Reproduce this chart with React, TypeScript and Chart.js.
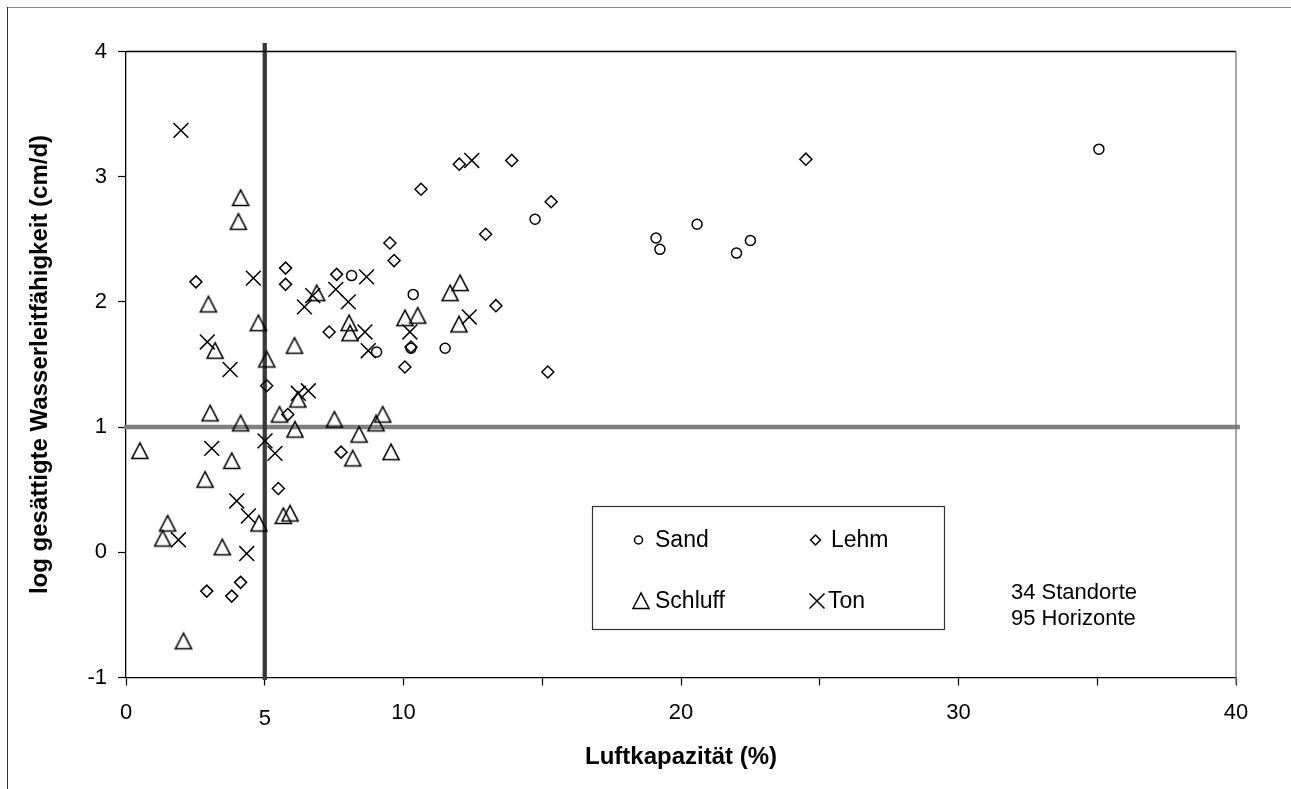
import React, { useEffect, useRef } from 'react';
import { Chart, registerables } from 'chart.js';

Chart.register(...registerables);

const FONT = "'Liberation Sans', Arial, Helvetica, sans-serif";

// ---- data ----
const sandX = [8.13, 9.03, 10.27, 10.35, 11.5, 14.74, 19.1, 19.24, 20.58, 22.0, 22.5, 35.06];
const sandY = [2.21, 1.6, 1.63, 2.06, 1.63, 2.66, 2.51, 2.42, 2.62, 2.39, 2.49, 3.22];

const lehmX = [2.52, 5.75, 5.75, 5.07, 5.83, 5.49, 2.91, 3.81, 4.13, 7.59, 9.51, 9.66, 7.32, 10.27, 10.05, 7.75, 12.01, 13.9, 10.63, 15.32, 12.96, 13.33, 15.2, 24.5];
const lehmY = [2.16, 2.27, 2.14, 1.33, 1.1, 0.51, -0.31, -0.35, -0.24, 2.22, 2.47, 2.33, 1.76, 1.64, 1.48, 0.8, 3.1, 3.13, 2.9, 2.8, 2.54, 1.97, 1.44, 3.14];

const schluffX = [4.13, 4.05, 2.97, 4.77, 3.21, 5.07, 6.07, 6.19, 5.53, 3.03, 4.13, 6.09, 0.5, 3.81, 2.85, 1.5, 1.32, 3.47, 4.79, 5.67, 5.91, 2.07, 6.87, 8.04, 8.07, 10.05, 10.51, 11.68, 12.04, 12.0, 7.51, 9.25, 9.01, 8.4, 8.17, 9.55];
const schluffY = [2.83, 2.64, 1.98, 1.83, 1.61, 1.54, 1.65, 1.22, 1.1, 1.11, 1.03, 0.98, 0.81, 0.73, 0.58, 0.23, 0.11, 0.04, 0.23, 0.29, 0.31, -0.71, 2.07, 1.83, 1.75, 1.87, 1.89, 2.07, 2.15, 1.82, 1.06, 1.1, 1.03, 0.94, 0.75, 0.8];

const tonX = [1.98, 4.59, 6.43, 6.73, 7.56, 8.01, 8.67, 8.61, 8.73, 10.23, 6.21, 6.57, 12.46, 12.37, 2.93, 3.75, 3.09, 5.01, 5.37, 3.99, 4.41, 1.89, 4.35];
const tonY = [3.37, 2.19, 1.96, 2.05, 2.1, 2.0, 2.2, 1.76, 1.61, 1.76, 1.27, 1.29, 3.13, 1.88, 1.68, 1.46, 0.83, 0.89, 0.79, 0.41, 0.29, 0.1, -0.01];

const seriesNames = ['Sand', 'Lehm', 'Schluff', 'Ton'];

const xLimitLine = 5; // vertical reference line at Luftkapazität 5 %
const yLimitLine = 1; // horizontal reference line at log K = 1

const xTickLabels = ['0', '10', '20', '30', '40'];
const xTitle = 'Luftkapazität (%)';
const yTitle = 'log gesättigte Wasserleitfähigkeit (cm/d)';
const noteLines = ['34 Standorte', '95 Horizonte'];

const pairs = (xs: number[], ys: number[]) => xs.map((x, i) => ({ x, y: ys[i] }));

function makeTriangle(): HTMLCanvasElement {
  const c = document.createElement('canvas');
  c.width = 20;
  c.height = 20;
  const g = c.getContext('2d')!;
  g.strokeStyle = '#000';
  g.lineWidth = 1.6;
  g.beginPath();
  g.moveTo(10, 2);
  g.lineTo(2, 17.5);
  g.lineTo(18, 17.5);
  g.closePath();
  g.stroke();
  return c;
}

function drawMarker(ctx: CanvasRenderingContext2D, kind: string, x: number, y: number) {
  ctx.save();
  ctx.strokeStyle = '#000';
  ctx.lineWidth = 1.5;
  ctx.beginPath();
  if (kind === 'Sand') {
    ctx.arc(x, y, 4, 0, Math.PI * 2);
  } else if (kind === 'Lehm') {
    ctx.moveTo(x - 5, y);
    ctx.lineTo(x, y - 5);
    ctx.lineTo(x + 5, y);
    ctx.lineTo(x, y + 5);
    ctx.closePath();
  } else if (kind === 'Schluff') {
    ctx.moveTo(x, y - 8);
    ctx.lineTo(x - 8, y + 7.5);
    ctx.lineTo(x + 8, y + 7.5);
    ctx.closePath();
  } else {
    ctx.moveTo(x - 7.5, y - 7.5);
    ctx.lineTo(x + 7.5, y + 7.5);
    ctx.moveTo(x + 7.5, y - 7.5);
    ctx.lineTo(x - 7.5, y + 7.5);
  }
  ctx.stroke();
  ctx.restore();
}

const extrasPlugin = {
  id: 'extras',
  afterDraw(chart: any) {
    const ctx: CanvasRenderingContext2D = chart.ctx;
    const { left, right, top } = chart.chartArea;
    ctx.save();
    // outer frame
    ctx.lineWidth = 1;
    ctx.strokeStyle = '#8a8a8a';
    ctx.beginPath();
    ctx.moveTo(7, 7.5);
    ctx.lineTo(1291, 7.5);
    ctx.stroke();
    ctx.strokeStyle = '#333';
    ctx.beginPath();
    ctx.moveTo(7.5, 7);
    ctx.lineTo(7.5, 789);
    ctx.stroke();
    // plot top / right border
    ctx.strokeStyle = '#000';
    ctx.lineWidth = 1.3;
    ctx.beginPath();
    ctx.moveTo(left, top);
    ctx.lineTo(right, top);
    ctx.stroke();
    ctx.strokeStyle = '#777';
    ctx.beginPath();
    ctx.moveTo(right, top);
    ctx.lineTo(right, chart.chartArea.bottom + 7);
    ctx.stroke();

    // "5" label under the limit line
    const xs = chart.scales.x;
    ctx.fillStyle = '#000';
    ctx.font = `22px ${FONT}`;
    ctx.textAlign = 'center';
    ctx.textBaseline = 'middle';
    ctx.fillText(String(xLimitLine), xs.getPixelForValue(xLimitLine), 719);

    // legend box
    ctx.strokeStyle = '#333';
    ctx.lineWidth = 1.2;
    ctx.strokeRect(592.5, 506.5, 352, 123);
    const legendPos = [
      { mx: 638.5, tx: 655, y: 540 },
      { mx: 815.5, tx: 831, y: 540 },
      { mx: 641, tx: 655, y: 601 },
      { mx: 817, tx: 828, y: 601 },
    ];
    ctx.font = `23px ${FONT}`;
    ctx.textAlign = 'left';
    ctx.textBaseline = 'middle';
    seriesNames.forEach((name, i) => {
      const p = legendPos[i];
      drawMarker(ctx, name, p.mx, p.y);
      ctx.fillStyle = '#000';
      ctx.fillText(name, p.tx, p.y + 1);
    });

    // note
    ctx.font = `22px ${FONT}`;
    ctx.fillText(noteLines[0], 1011, 593);
    ctx.fillText(noteLines[1], 1011, 619);
    ctx.restore();
  },
};

export default function App() {
  const ref = useRef<HTMLCanvasElement | null>(null);

  useEffect(() => {
    if (!ref.current) return;
    const tri = makeTriangle();
    const common = { backgroundColor: 'rgba(0,0,0,0)', borderColor: '#000', borderWidth: 1.5 };
    const chart = new Chart(ref.current, {
      type: 'scatter',
      data: {
        datasets: [
          { label: seriesNames[0], data: pairs(sandX, sandY), pointStyle: 'circle', pointRadius: 5, ...common },
          { label: seriesNames[1], data: pairs(lehmX, lehmY), pointStyle: 'rectRot', pointRadius: 6, ...common },
          { label: seriesNames[2], data: pairs(schluffX, schluffY), pointStyle: tri as any, pointRadius: 9, ...common },
          { label: seriesNames[3], data: pairs(tonX, tonY), pointStyle: 'crossRot', pointRadius: 10.5, ...common },
          {
            label: 'limitX',
            data: [{ x: xLimitLine, y: 4.067 }, { x: xLimitLine, y: -1.02 }],
            showLine: true,
            borderColor: '#3a3a3a',
            borderWidth: 4.3,
            pointRadius: 0,
            clip: false as any,
            order: 10,
          },
          {
            label: 'limitY',
            data: [{ x: -0.07, y: yLimitLine }, { x: 40.14, y: yLimitLine }],
            showLine: true,
            borderColor: '#808080',
            borderWidth: 4.5,
            pointRadius: 0,
            clip: false as any,
            order: 11,
          },
        ] as any,
      },
      options: {
        responsive: false,
        animation: false,
        layout: { padding: { left: 0, right: 55, top: 51.5, bottom: 0 } },
        plugins: { legend: { display: false }, tooltip: { enabled: false } },
        scales: {
          x: {
            type: 'linear',
            min: 0,
            max: 40,
            afterFit: (s: any) => { s.height = 111.5; },
            border: { display: true, color: '#000', width: 1.3 },
            grid: { drawOnChartArea: false, drawTicks: true, tickLength: 8, color: '#000', tickWidth: 1.2 },
            ticks: {
              stepSize: 5,
              autoSkip: false,
              maxRotation: 0,
              padding: 14,
              color: '#000',
              font: { family: FONT, size: 22 },
              callback: (v: any) => (xTickLabels.includes(String(v)) ? String(v) : ''),
            },
            title: {
              display: true,
              text: xTitle,
              color: '#000',
              font: { family: FONT, size: 24, weight: 'bold' },
              padding: { top: 0, bottom: 17.5 },
            },
          },
          y: {
            type: 'linear',
            min: -1,
            max: 4,
            afterFit: (s: any) => { s.width = 126; },
            border: { display: true, color: '#000', width: 1.3 },
            grid: { drawOnChartArea: false, drawTicks: true, tickLength: 8, color: '#000', tickWidth: 1.2 },
            ticks: {
              stepSize: 1,
              padding: 11,
              color: '#000',
              font: { family: FONT, size: 22 },
            },
            title: {
              display: true,
              text: yTitle,
              color: '#000',
              font: { family: FONT, size: 24, weight: 'bold' },
              padding: { top: 26, bottom: 0 },
            },
          },
        },
      } as any,
      plugins: [extrasPlugin],
    });
    return () => chart.destroy();
  }, []);

  return (
    <div style={{ position: 'absolute', left: 0, top: 0, width: 1291, height: 789, background: '#fff' }}>
      <canvas ref={ref} width={1291} height={789} style={{ width: 1291, height: 789, display: 'block' }} />
    </div>
  );
}
